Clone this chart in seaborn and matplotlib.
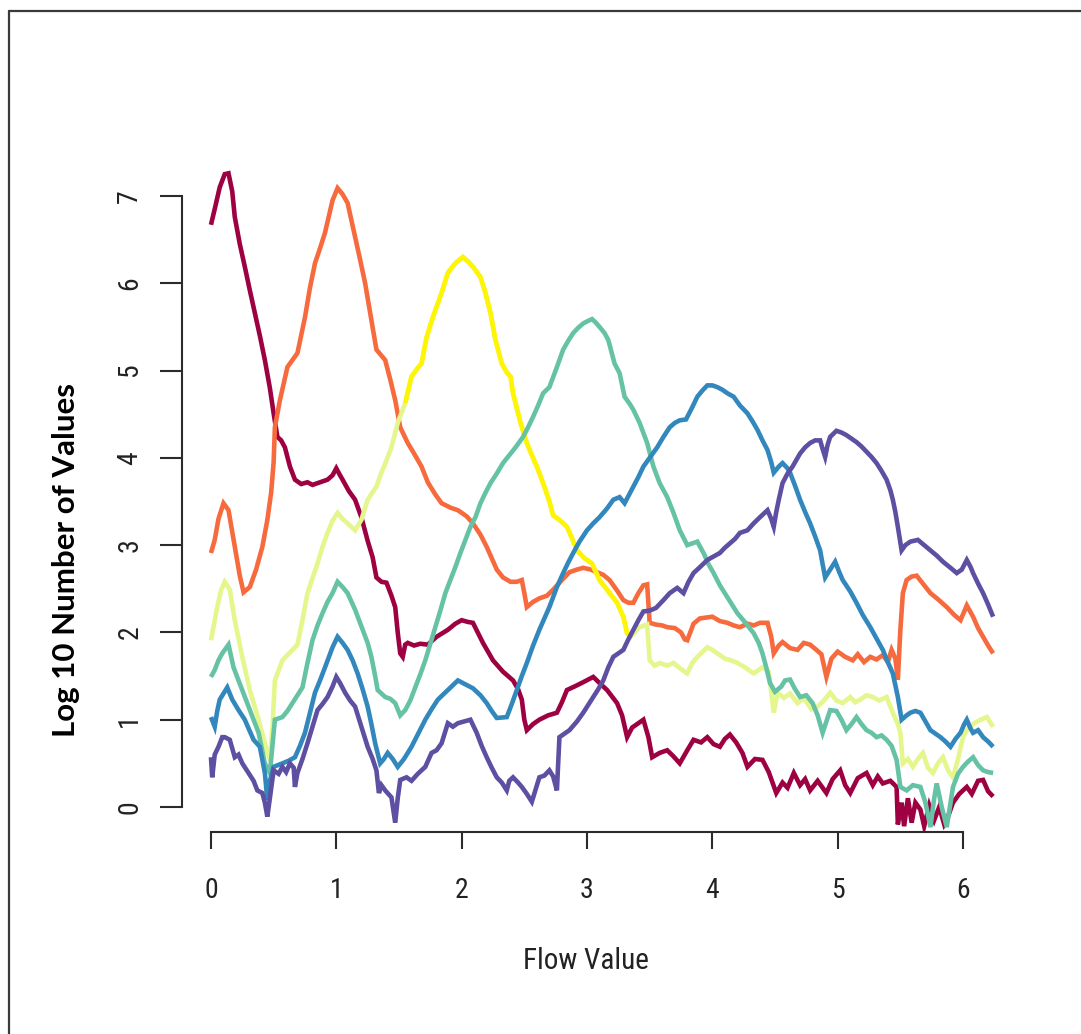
import numpy as np
import pandas as pd
import matplotlib
matplotlib.use("Agg")
import matplotlib.pyplot as plt
from matplotlib.lines import Line2D
from matplotlib import font_manager
import seaborn as sns

# ---- series: log10 counts of values against flow value, one curve per peak ----
flow_0 = [0.00, 0.03, 0.07, 0.11, 0.14, 0.17, 0.19, 0.23, 0.27, 0.31, 0.35, 0.39, 0.43, 0.47, 0.50, 0.53,
          0.56, 0.59, 0.63, 0.67, 0.72, 0.77, 0.81, 0.87, 0.93, 0.97, 1.00, 1.03, 1.05, 1.10, 1.15, 1.20,
          1.25, 1.29, 1.32, 1.36, 1.40, 1.44, 1.47, 1.49, 1.51, 1.53, 1.55, 1.57, 1.62, 1.67, 1.73, 1.80,
          1.89, 1.95, 2.00, 2.05, 2.09, 2.17, 2.25, 2.33, 2.41, 2.45, 2.48, 2.50, 2.52, 2.57, 2.62, 2.69,
          2.76, 2.80, 2.84, 2.90, 2.97, 3.05, 3.10, 3.16, 3.24, 3.28, 3.32, 3.36, 3.40, 3.45, 3.49, 3.52,
          3.58, 3.64, 3.69, 3.74, 3.80, 3.85, 3.91, 3.96, 4.01, 4.06, 4.10, 4.14, 4.19, 4.24, 4.28, 4.34,
          4.40, 4.45, 4.51, 4.56, 4.60, 4.65, 4.70, 4.74, 4.78, 4.84, 4.91, 4.96, 5.02, 5.06, 5.10, 5.16,
          5.23, 5.28, 5.32, 5.36, 5.42, 5.47, 5.48, 5.51, 5.53, 5.56, 5.59, 5.62, 5.66, 5.69, 5.73, 5.77,
          5.81, 5.85, 5.87, 5.92, 5.97, 6.03, 6.07, 6.12, 6.16, 6.20, 6.24]
log_count_0 = [6.67, 6.85, 7.10, 7.25, 7.26, 7.05, 6.76, 6.45, 6.19, 5.92, 5.66, 5.40, 5.12, 4.80, 4.51, 4.24,
               4.20, 4.12, 3.90, 3.75, 3.70, 3.72, 3.69, 3.72, 3.75, 3.80, 3.88, 3.80, 3.75, 3.62, 3.52, 3.32,
               3.05, 2.86, 2.63, 2.58, 2.57, 2.42, 2.29, 2.00, 1.76, 1.72, 1.86, 1.88, 1.85, 1.87, 1.86, 1.95,
               2.03, 2.10, 2.14, 2.12, 2.11, 1.88, 1.68, 1.55, 1.45, 1.35, 1.23, 1.00, 0.88, 0.95, 1.00, 1.05,
               1.08, 1.20, 1.34, 1.38, 1.43, 1.49, 1.42, 1.34, 1.19, 1.05, 0.80, 0.91, 0.95, 1.00, 0.80, 0.57,
               0.62, 0.65, 0.58, 0.50, 0.65, 0.77, 0.74, 0.80, 0.72, 0.69, 0.78, 0.83, 0.74, 0.62, 0.46, 0.55,
               0.54, 0.40, 0.16, 0.28, 0.22, 0.39, 0.25, 0.32, 0.19, 0.30, 0.16, 0.32, 0.42, 0.25, 0.16, 0.33,
               0.39, 0.25, 0.35, 0.27, 0.30, 0.23, -0.20, 0.05, -0.22, 0.10, -0.18, 0.05, -0.03, -0.22, 0.02, -0.15,
               0.00, -0.20, -0.15, 0.05, 0.15, 0.23, 0.15, 0.30, 0.31, 0.18, 0.12]

flow_1 = [0.00, 0.03, 0.06, 0.10, 0.14, 0.17, 0.19, 0.23, 0.26, 0.31, 0.36, 0.41, 0.45, 0.48, 0.50, 0.51,
          0.55, 0.61, 0.69, 0.75, 0.79, 0.83, 0.87, 0.91, 0.97, 1.01, 1.05, 1.09, 1.15, 1.19, 1.23, 1.28,
          1.32, 1.39, 1.43, 1.47, 1.51, 1.57, 1.62, 1.68, 1.73, 1.79, 1.84, 1.91, 1.97, 2.04, 2.09, 2.15,
          2.20, 2.28, 2.33, 2.39, 2.44, 2.48, 2.50, 2.52, 2.57, 2.62, 2.68, 2.73, 2.80, 2.86, 2.92, 2.97,
          3.03, 3.08, 3.13, 3.18, 3.24, 3.29, 3.33, 3.37, 3.41, 3.45, 3.48, 3.50, 3.55, 3.60, 3.64, 3.70,
          3.75, 3.78, 3.80, 3.85, 3.90, 3.95, 4.00, 4.06, 4.12, 4.17, 4.22, 4.28, 4.33, 4.38, 4.44, 4.47,
          4.49, 4.53, 4.56, 4.62, 4.68, 4.73, 4.78, 4.83, 4.87, 4.91, 4.95, 5.00, 5.06, 5.12, 5.16, 5.21,
          5.26, 5.31, 5.36, 5.40, 5.43, 5.46, 5.48, 5.50, 5.52, 5.55, 5.59, 5.63, 5.68, 5.74, 5.80, 5.87,
          5.93, 5.98, 6.03, 6.08, 6.12, 6.16, 6.20, 6.24]
log_count_1 = [2.91, 3.06, 3.30, 3.48, 3.40, 3.15, 2.98, 2.65, 2.46, 2.52, 2.72, 2.98, 3.29, 3.60, 3.95, 4.35,
               4.66, 5.04, 5.20, 5.61, 5.95, 6.23, 6.40, 6.58, 6.95, 7.09, 7.02, 6.92, 6.53, 6.27, 6.00, 5.58,
               5.24, 5.12, 4.90, 4.66, 4.35, 4.17, 4.05, 3.90, 3.72, 3.58, 3.48, 3.43, 3.40, 3.33, 3.25, 3.12,
               2.98, 2.72, 2.63, 2.58, 2.58, 2.60, 2.45, 2.29, 2.35, 2.39, 2.42, 2.49, 2.60, 2.69, 2.72, 2.74,
               2.72, 2.69, 2.66, 2.60, 2.48, 2.37, 2.34, 2.34, 2.45, 2.54, 2.55, 2.11, 2.09, 2.08, 2.06, 2.05,
               2.00, 1.92, 1.91, 2.10, 2.16, 2.17, 2.18, 2.13, 2.11, 2.08, 2.06, 2.10, 2.08, 2.11, 2.11, 1.95,
               1.76, 1.85, 1.89, 1.82, 1.80, 1.88, 1.86, 1.80, 1.75, 1.49, 1.70, 1.78, 1.72, 1.68, 1.75, 1.66,
               1.72, 1.69, 1.74, 1.66, 1.80, 1.70, 1.46, 2.03, 2.45, 2.60, 2.64, 2.65, 2.56, 2.45, 2.38, 2.29,
               2.20, 2.14, 2.31, 2.18, 2.05, 1.95, 1.85, 1.76]

flow_2 = [0.00, 0.05, 0.08, 0.11, 0.15, 0.19, 0.25, 0.31, 0.38, 0.43, 0.45, 0.47, 0.49, 0.51, 0.57, 0.65,
          0.69, 0.73, 0.77, 0.81, 0.85, 0.89, 0.93, 0.97, 1.01, 1.05, 1.09, 1.15, 1.20, 1.25, 1.32, 1.36,
          1.40, 1.44, 1.49, 1.55, 1.60, 1.65, 1.68, 1.72, 1.77, 1.84, 1.89, 1.95, 2.01, 2.05, 2.09, 2.15,
          2.19, 2.23, 2.27, 2.32, 2.36, 2.39, 2.41, 2.47, 2.52, 2.56, 2.60, 2.66, 2.70, 2.73, 2.78, 2.84,
          2.88, 2.92, 2.98, 3.04, 3.10, 3.16, 3.24, 3.29, 3.32, 3.35, 3.42, 3.48, 3.50, 3.54, 3.58, 3.64,
          3.69, 3.75, 3.80, 3.84, 3.88, 3.96, 4.00, 4.04, 4.10, 4.15, 4.20, 4.26, 4.33, 4.40, 4.45, 4.49,
          4.52, 4.57, 4.62, 4.68, 4.73, 4.79, 4.84, 4.89, 4.94, 4.99, 5.04, 5.10, 5.14, 5.18, 5.23, 5.28,
          5.33, 5.39, 5.44, 5.48, 5.50, 5.52, 5.56, 5.60, 5.64, 5.68, 5.72, 5.76, 5.80, 5.84, 5.88, 5.92,
          5.96, 6.00, 6.03, 6.08, 6.14, 6.19, 6.24]
log_count_2 = [1.91, 2.29, 2.48, 2.58, 2.49, 2.14, 1.72, 1.34, 1.00, 0.73, 0.62, 0.55, 0.90, 1.45, 1.68, 1.80,
               1.86, 2.14, 2.45, 2.62, 2.79, 2.98, 3.14, 3.28, 3.37, 3.30, 3.25, 3.17, 3.29, 3.52, 3.67, 3.83,
               3.97, 4.12, 4.40, 4.63, 4.93, 5.03, 5.08, 5.38, 5.61, 5.89, 6.12, 6.23, 6.30, 6.25, 6.19, 6.07,
               5.89, 5.66, 5.35, 5.08, 4.98, 4.93, 4.74, 4.40, 4.17, 4.03, 3.90, 3.67, 3.50, 3.34, 3.29, 3.21,
               3.08, 2.94, 2.85, 2.79, 2.60, 2.49, 2.34, 2.18, 1.99, 1.95, 2.06, 2.09, 1.68, 1.62, 1.65, 1.62,
               1.65, 1.58, 1.53, 1.65, 1.72, 1.83, 1.80, 1.76, 1.70, 1.68, 1.65, 1.60, 1.53, 1.60, 1.55, 1.08,
               1.31, 1.25, 1.30, 1.19, 1.25, 1.12, 1.15, 1.22, 1.31, 1.22, 1.19, 1.26, 1.20, 1.23, 1.28, 1.26,
               1.22, 1.26, 1.08, 0.95, 0.85, 0.50, 0.55, 0.46, 0.55, 0.62, 0.45, 0.39, 0.50, 0.57, 0.42, 0.34,
               0.55, 0.80, 0.88, 0.95, 1.00, 1.03, 0.92]

flow_3 = [0.00, 0.03, 0.06, 0.09, 0.14, 0.18, 0.22, 0.26, 0.30, 0.34, 0.38, 0.43, 0.47, 0.49, 0.51, 0.57,
          0.61, 0.65, 0.69, 0.73, 0.77, 0.81, 0.85, 0.89, 0.93, 0.97, 1.01, 1.05, 1.09, 1.15, 1.21, 1.25,
          1.28, 1.31, 1.33, 1.39, 1.43, 1.47, 1.51, 1.55, 1.59, 1.63, 1.67, 1.71, 1.75, 1.79, 1.83, 1.87,
          1.91, 1.95, 1.99, 2.03, 2.07, 2.11, 2.15, 2.19, 2.23, 2.28, 2.33, 2.38, 2.43, 2.49, 2.53, 2.57,
          2.61, 2.65, 2.70, 2.76, 2.81, 2.85, 2.89, 2.93, 2.97, 3.01, 3.04, 3.07, 3.10, 3.14, 3.17, 3.22,
          3.26, 3.30, 3.34, 3.37, 3.42, 3.48, 3.53, 3.58, 3.64, 3.69, 3.74, 3.80, 3.84, 3.88, 3.93, 3.97,
          4.01, 4.06, 4.13, 4.20, 4.27, 4.33, 4.37, 4.40, 4.43, 4.46, 4.50, 4.55, 4.58, 4.62, 4.66, 4.70,
          4.75, 4.80, 4.84, 4.88, 4.91, 4.94, 4.99, 5.03, 5.07, 5.11, 5.15, 5.19, 5.23, 5.27, 5.31, 5.35,
          5.39, 5.43, 5.47, 5.50, 5.55, 5.60, 5.66, 5.70, 5.74, 5.77, 5.79, 5.83, 5.87, 5.90, 5.92, 5.96,
          6.00, 6.04, 6.08, 6.12, 6.16, 6.20, 6.24]
log_count_3 = [1.49, 1.57, 1.68, 1.76, 1.86, 1.60, 1.45, 1.30, 1.15, 1.00, 0.85, 0.50, 0.39, 0.70, 1.00, 1.03,
               1.10, 1.19, 1.28, 1.37, 1.65, 1.91, 2.08, 2.22, 2.35, 2.45, 2.58, 2.52, 2.45, 2.26, 2.03, 1.88,
               1.72, 1.50, 1.34, 1.26, 1.24, 1.19, 1.05, 1.11, 1.22, 1.37, 1.52, 1.68, 1.87, 2.06, 2.25, 2.45,
               2.60, 2.75, 2.91, 3.06, 3.21, 3.32, 3.48, 3.60, 3.71, 3.82, 3.94, 4.03, 4.12, 4.24, 4.35, 4.47,
               4.60, 4.74, 4.81, 5.04, 5.24, 5.34, 5.43, 5.49, 5.54, 5.57, 5.59, 5.55, 5.50, 5.43, 5.35, 5.08,
               4.97, 4.70, 4.62, 4.55, 4.40, 4.17, 3.90, 3.71, 3.55, 3.37, 3.17, 3.00, 3.02, 3.04, 2.91, 2.78,
               2.68, 2.54, 2.38, 2.22, 2.10, 1.99, 1.88, 1.76, 1.60, 1.42, 1.32, 1.38, 1.45, 1.46, 1.35, 1.26,
               1.28, 1.19, 1.05, 0.85, 0.98, 1.11, 1.10, 1.00, 0.88, 0.95, 1.03, 0.95, 0.88, 0.85, 0.80, 0.82,
               0.77, 0.70, 0.54, 0.23, 0.19, 0.25, 0.23, 0.05, -0.23, 0.10, 0.27, 0.00, -0.23, 0.05, 0.23, 0.38,
               0.46, 0.52, 0.57, 0.48, 0.42, 0.40, 0.39]

flow_4 = [0.00, 0.03, 0.05, 0.07, 0.10, 0.13, 0.17, 0.22, 0.27, 0.30, 0.34, 0.39, 0.43, 0.45, 0.47, 0.50,
          0.57, 0.62, 0.67, 0.71, 0.75, 0.79, 0.83, 0.87, 0.91, 0.97, 1.01, 1.05, 1.09, 1.13, 1.17, 1.21,
          1.25, 1.28, 1.31, 1.35, 1.38, 1.41, 1.45, 1.49, 1.54, 1.60, 1.65, 1.71, 1.76, 1.81, 1.89, 1.97,
          2.05, 2.09, 2.15, 2.20, 2.24, 2.28, 2.36, 2.40, 2.44, 2.48, 2.52, 2.57, 2.62, 2.66, 2.70, 2.76,
          2.81, 2.85, 2.89, 2.94, 3.00, 3.05, 3.10, 3.16, 3.21, 3.26, 3.30, 3.37, 3.41, 3.45, 3.50, 3.56,
          3.61, 3.66, 3.70, 3.74, 3.79, 3.84, 3.88, 3.92, 3.96, 4.00, 4.04, 4.08, 4.12, 4.17, 4.22, 4.28,
          4.32, 4.36, 4.40, 4.44, 4.47, 4.49, 4.53, 4.56, 4.60, 4.62, 4.66, 4.70, 4.74, 4.78, 4.82, 4.86,
          4.88, 4.90, 4.94, 4.98, 5.01, 5.04, 5.10, 5.15, 5.20, 5.26, 5.31, 5.36, 5.40, 5.44, 5.48, 5.51,
          5.55, 5.58, 5.62, 5.66, 5.70, 5.74, 5.78, 5.82, 5.86, 5.90, 5.94, 5.98, 6.01, 6.03, 6.06, 6.08,
          6.12, 6.16, 6.20, 6.24]
log_count_4 = [1.03, 0.92, 1.10, 1.23, 1.30, 1.37, 1.23, 1.11, 1.00, 0.90, 0.77, 0.69, 0.39, 0.08, 0.30, 0.46,
               0.50, 0.53, 0.57, 0.70, 0.85, 1.08, 1.31, 1.45, 1.60, 1.83, 1.95, 1.88, 1.80, 1.68, 1.53, 1.35,
               1.15, 0.95, 0.73, 0.50, 0.55, 0.62, 0.55, 0.46, 0.55, 0.69, 0.83, 1.00, 1.12, 1.23, 1.34, 1.45,
               1.39, 1.36, 1.28, 1.19, 1.10, 1.02, 1.03, 1.18, 1.34, 1.50, 1.65, 1.85, 2.03, 2.16, 2.29, 2.52,
               2.68, 2.80, 2.91, 3.04, 3.17, 3.25, 3.32, 3.42, 3.52, 3.55, 3.48, 3.67, 3.78, 3.90, 4.00, 4.12,
               4.24, 4.35, 4.40, 4.43, 4.44, 4.58, 4.70, 4.77, 4.83, 4.83, 4.81, 4.78, 4.74, 4.70, 4.60, 4.51,
               4.42, 4.32, 4.20, 4.09, 3.95, 3.83, 3.90, 3.94, 3.88, 3.83, 3.68, 3.52, 3.38, 3.25, 3.10, 2.94,
               2.78, 2.63, 2.72, 2.81, 2.70, 2.60, 2.47, 2.34, 2.20, 2.06, 1.93, 1.80, 1.66, 1.53, 1.26, 1.00,
               1.05, 1.08, 1.10, 1.08, 0.98, 0.88, 0.84, 0.80, 0.75, 0.69, 0.78, 0.85, 0.95, 1.00, 0.90, 0.85,
               0.88, 0.80, 0.75, 0.69]

flow_5 = [0.00, 0.01, 0.03, 0.06, 0.09, 0.11, 0.15, 0.19, 0.22, 0.25, 0.30, 0.34, 0.37, 0.41, 0.43, 0.45,
          0.47, 0.50, 0.54, 0.57, 0.60, 0.63, 0.66, 0.67, 0.69, 0.73, 0.77, 0.81, 0.85, 0.89, 0.93, 0.97,
          1.00, 1.03, 1.07, 1.11, 1.15, 1.20, 1.25, 1.29, 1.32, 1.34, 1.36, 1.39, 1.44, 1.47, 1.49, 1.51,
          1.56, 1.60, 1.65, 1.71, 1.76, 1.80, 1.84, 1.89, 1.93, 1.97, 2.02, 2.07, 2.12, 2.16, 2.20, 2.24,
          2.28, 2.32, 2.36, 2.38, 2.41, 2.45, 2.48, 2.52, 2.56, 2.59, 2.62, 2.66, 2.70, 2.73, 2.76, 2.78,
          2.82, 2.86, 2.92, 2.97, 3.01, 3.05, 3.09, 3.13, 3.17, 3.21, 3.25, 3.29, 3.33, 3.37, 3.41, 3.45,
          3.50, 3.55, 3.61, 3.66, 3.72, 3.77, 3.81, 3.85, 3.91, 3.96, 4.01, 4.06, 4.10, 4.14, 4.18, 4.22,
          4.28, 4.33, 4.38, 4.44, 4.47, 4.49, 4.51, 4.53, 4.56, 4.60, 4.64, 4.70, 4.74, 4.78, 4.82, 4.86,
          4.88, 4.90, 4.92, 4.94, 4.99, 5.03, 5.07, 5.11, 5.15, 5.19, 5.23, 5.27, 5.31, 5.35, 5.39, 5.42,
          5.44, 5.46, 5.48, 5.51, 5.54, 5.58, 5.64, 5.69, 5.74, 5.79, 5.84, 5.90, 5.95, 5.99, 6.03, 6.06,
          6.08, 6.12, 6.16, 6.20, 6.24]
log_count_5 = [0.57, 0.34, 0.60, 0.69, 0.80, 0.80, 0.77, 0.57, 0.60, 0.50, 0.39, 0.30, 0.19, 0.16, 0.05, -0.11,
               0.10, 0.42, 0.38, 0.46, 0.40, 0.50, 0.45, 0.23, 0.39, 0.55, 0.73, 0.92, 1.11, 1.18, 1.26, 1.38,
               1.49, 1.42, 1.31, 1.22, 1.15, 0.92, 0.69, 0.55, 0.42, 0.16, 0.25, 0.19, 0.11, -0.18, 0.10, 0.31,
               0.34, 0.30, 0.38, 0.46, 0.62, 0.65, 0.73, 0.96, 0.92, 0.96, 0.98, 1.00, 0.85, 0.70, 0.57, 0.45,
               0.34, 0.28, 0.19, 0.30, 0.34, 0.28, 0.23, 0.15, 0.06, 0.20, 0.34, 0.36, 0.42, 0.35, 0.19, 0.80,
               0.84, 0.88, 0.98, 1.08, 1.17, 1.26, 1.35, 1.45, 1.60, 1.72, 1.76, 1.80, 1.92, 2.03, 2.14, 2.24,
               2.25, 2.28, 2.37, 2.45, 2.51, 2.45, 2.58, 2.68, 2.76, 2.83, 2.87, 2.91, 2.97, 3.02, 3.07, 3.14,
               3.17, 3.25, 3.32, 3.40, 3.30, 3.21, 3.38, 3.52, 3.71, 3.82, 3.90, 4.05, 4.12, 4.17, 4.20, 4.20,
               4.10, 4.01, 4.15, 4.24, 4.31, 4.29, 4.26, 4.22, 4.18, 4.13, 4.07, 4.01, 3.94, 3.85, 3.75, 3.63,
               3.52, 3.38, 3.21, 2.94, 3.00, 3.04, 3.06, 3.00, 2.94, 2.88, 2.81, 2.74, 2.68, 2.72, 2.83, 2.75,
               2.68, 2.56, 2.45, 2.32, 2.18]

line_colors = ["#9E0142", "#F66A3E", "#E4F68C", "#66C2A5", "#3288BD", "#5E4FA2"]
peak_highlight = "#FFF500"          # central stretch of the third curve
highlight_span = (1.50, 3.35)

x_ticks = [0, 1, 2, 3, 4, 5, 6]
y_ticks = [0, 1, 2, 3, 4, 5, 6, 7]
x_label = "Flow Value"
y_label = "Log 10 Number of Values"

flows = [flow_0, flow_1, flow_2, flow_3, flow_4, flow_5]
counts = [log_count_0, log_count_1, log_count_2, log_count_3, log_count_4, log_count_5]

frames = []
for i, (fx, cy) in enumerate(zip(flows, counts)):
    frames.append(pd.DataFrame({"flow": fx, "log_count": cy, "series": i}))
data = pd.concat(frames, ignore_index=True)

# ---- fonts: a narrow sans for the axis text when available ----
installed = {f.name for f in font_manager.fontManager.ttflist}
narrow = next((n for n in ["Liberation Sans Narrow", "DejaVu Sans Condensed", "Roboto Condensed"]
               if n in installed), "Liberation Sans")

# ---- figure ----
sns.set_style("white")
plt.rcParams["font.family"] = [narrow, "DejaVu Sans"]

W, H = 1081, 1034
fig = plt.figure(figsize=(W / 100, H / 100), dpi=100)
fig.patch.set_facecolor("white")

left_px, right_px = 181.5, 1025.7
top_px, bottom_px = 143.6, 831.7
ax = fig.add_axes([left_px / W, 1 - bottom_px / H, (right_px - left_px) / W, (bottom_px - top_px) / H])
ax.set_facecolor("white")

LW = 3.3
for i in range(len(flows)):
    sub = data[data["series"] == i]
    sns.lineplot(data=sub, x="flow", y="log_count", ax=ax, color=line_colors[i], lw=LW,
                 sort=False, estimator=None, legend=False, solid_joinstyle="miter", solid_capstyle="butt")
    if i == 2:
        seg = sub[(sub["flow"] >= highlight_span[0]) & (sub["flow"] <= highlight_span[1])]
        sns.lineplot(data=seg, x="flow", y="log_count", ax=ax, color=peak_highlight, lw=LW,
                     sort=False, estimator=None, legend=False, solid_joinstyle="miter",
                     solid_capstyle="butt")

ax.set_xlim(-0.235, 6.5)
ax.set_ylim(-0.283, 7.6)

# R-style axes: only the left and bottom lines spanning the tick range
for side in ["top", "right"]:
    ax.spines[side].set_visible(False)
for side in ["left", "bottom"]:
    ax.spines[side].set_visible(True)
    ax.spines[side].set_color("#2b2b2b")
    ax.spines[side].set_linewidth(1.5)
ax.spines["left"].set_bounds(0, 7)
ax.spines["bottom"].set_bounds(0, 6)

ax.set_xticks(x_ticks)
ax.set_yticks(y_ticks)
ax.set_xticklabels([str(v) for v in x_ticks])
ax.set_yticklabels([str(v) for v in y_ticks])
ax.tick_params(axis="x", direction="out", length=12.5, width=1.5, color="#2b2b2b",
               pad=20, labelsize=20, labelcolor="#222222", bottom=True)
ax.tick_params(axis="y", direction="out", length=15.5, width=1.5, color="#2b2b2b",
               pad=12, labelsize=20, labelcolor="#222222", left=True, labelrotation=90)
for lab in ax.get_yticklabels():
    lab.set_verticalalignment("center")
ax.set_xlabel("")
ax.set_ylabel("")
ax.grid(False)

fig.text(586 / W, 1 - 961 / H, x_label, ha="center", va="center", fontsize=21, color="#222222")
fig.text(66 / W, 1 - 560 / H, y_label, ha="center", va="center", rotation=90,
         fontsize=22.5, fontweight="bold", color="black", family=["Lato", "DejaVu Sans"])

# outer frame edges along the top and left of the canvas
fig.add_artist(Line2D([9 / W, 1.0], [1 - 11 / H, 1 - 11 / H], transform=fig.transFigure,
                      color="#3a3a3a", lw=1.6))
fig.add_artist(Line2D([9 / W, 9 / W], [0.0, 1 - 11 / H], transform=fig.transFigure,
                      color="#3a3a3a", lw=1.6))

fig.savefig("out.png", dpi=100, facecolor="white")
